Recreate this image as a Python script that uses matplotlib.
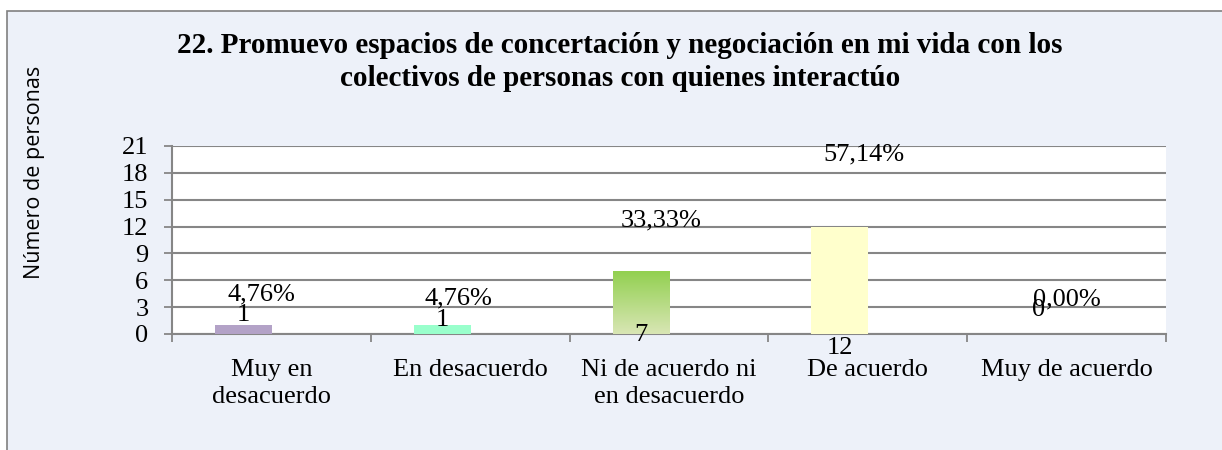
import matplotlib
matplotlib.use("Agg")
import matplotlib.pyplot as plt
import numpy as np
from matplotlib.patches import Rectangle
from matplotlib.colors import LinearSegmentedColormap

# ---- data ----
categories = ["Muy en\ndesacuerdo", "En desacuerdo", "Ni de acuerdo ni\nen desacuerdo",
              "De acuerdo", "Muy de acuerdo"]
counts = [1, 1, 7, 12, 0]
percent_labels = ["4,76%", "4,76%", "33,33%", "57,14%", "0,00%"]
title = "22. Promuevo espacios de concertación y negociación en mi vida con los\ncolectivos de personas con quienes interactúo"
ylabel = "Número de personas"
yticks = [0, 3, 6, 9, 12, 15, 18, 21]

# ---- layout/style (label placement as in the reference) ----
bar_colors = ["#B3A2C7", "#99FFCC", None, "#FFFFCC", "#FFFFFF"]
count_label_y = [2.1, 1.55, -0.1, -1.55, 2.65]
pct_label_dx = [-0.05, -0.06, -0.04, -0.02, 0.0]
pct_label_y = [4.45, 4.0, 12.65, 20.1, 3.9]

W, H, DPI = 1222, 450, 100
fig = plt.figure(figsize=(W / DPI, H / DPI), dpi=DPI, facecolor="white")

# chart area background with border
bg = Rectangle((7 / W, -0.1), 1.2, 1.1 - 11 / H, transform=fig.transFigure,
               facecolor="#EDF1F9", edgecolor="#808080", linewidth=1.2, zorder=-10)
fig.add_artist(bg)

L, R, T, B = 172, 1166, 146, 334
ax = fig.add_axes([L / W, 1 - B / H, (R - L) / W, (B - T) / H])
ax.set_zorder(1)
ax.set_facecolor("white")

x = np.arange(len(categories))
offset = 28 / 199
width = 57 / 199
bars = ax.bar(x - offset, counts, width=width, zorder=3,
              color=[c if c else "none" for c in bar_colors], linewidth=0)

# gradient for the green bar
cmap = LinearSegmentedColormap.from_list("g", ["#D9E6B5", "#92D050"])
b = bars[2]
grad = np.linspace(0, 1, 256).reshape(-1, 1)
ax.imshow(grad, cmap=cmap, origin="lower", aspect="auto", zorder=3,
          extent=[b.get_x(), b.get_x() + b.get_width(), 0, b.get_height()])

ax.set_xlim(-0.5, len(categories) - 0.5)
ax.set_ylim(0, 21)
ax.set_yticks(yticks)
ax.set_yticklabels([str(v) for v in yticks], family="Liberation Serif", fontsize=19)
ax.yaxis.grid(True, color="#868686", linewidth=1.5, zorder=1)
ax.set_axisbelow(True)

ax.set_xticks(x)
ax.set_xticklabels(categories, family="Liberation Serif", fontsize=19, linespacing=1.3)
ax.set_xticks(np.arange(-0.5, len(categories), 1), minor=True)
ax.tick_params(axis="x", which="major", length=0, pad=18)
ax.tick_params(axis="x", which="minor", length=6, width=1.3, color="#868686", direction="out")
ax.tick_params(axis="y", length=6, width=1.3, color="#868686", pad=11)

for s in ["top", "right"]:
    ax.spines[s].set_visible(False)
for s in ["left", "bottom"]:
    ax.spines[s].set_color("#868686")
    ax.spines[s].set_linewidth(1.5)

for i in range(len(categories)):
    ax.text(x[i] - offset, count_label_y[i], str(counts[i]), ha="center", va="center",
            family="Liberation Serif", fontsize=19, zorder=5)
    ax.text(x[i] + pct_label_dx[i], pct_label_y[i], percent_labels[i], ha="center",
            va="center", family="Liberation Serif", fontsize=19, zorder=5)

fig.text(620 / W, 1 - 62 / H, title, ha="center", va="center", family="Liberation Serif",
         fontsize=21, fontweight="bold", linespacing=1.3)

fig.text(35 / W, 1 - 172 / H, ylabel, rotation=90, ha="center", va="center",
         family="Open Sans", fontsize=15.5)

fig.savefig("out.png", dpi=DPI, facecolor="white")
